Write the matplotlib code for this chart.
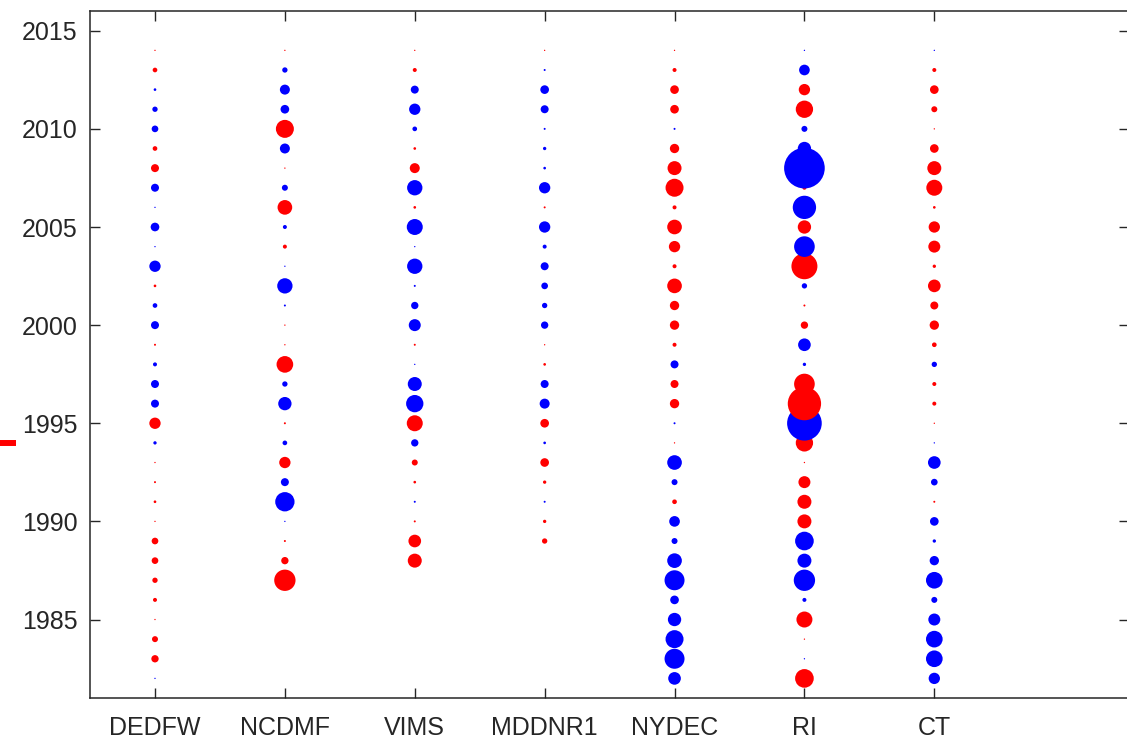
import numpy as np
import matplotlib.pyplot as plt
from matplotlib.lines import Line2D

plt.rcParams['font.family'] = ['Liberation Sans', 'DejaVu Sans']

years = np.arange(1982, 2015)
agencies = ["DEDFW", "NCDMF", "VIMS", "MDDNR1", "NYDEC", "RI", "CT"]
nan = np.nan

# signed anomaly per year, 1982..2014 (positive = red, negative = blue)
dedfw = [-0.2, 1.1, 0.9, 0.2, 0.6, 0.8, 1.0, 1.0, 0.2, 0.4, 0.3, 0.2, -0.5,
         1.7, -1.2, -1.2, -0.6, 0.3, -1.2, -0.7, 0.4, -1.7, -0.2, -1.3, -0.2,
         -1.2, 1.2, 0.7, -1.0, -0.8, -0.4, 0.7, 0.2]
ncdmf = [nan, nan, nan, nan, nan, 3.2, 1.1, 0.3, -0.2, -2.9, -1.2, 1.7, -0.7,
         0.3, -2.0, -0.8, 2.5, 0.2, 0.2, -0.3, -2.3, -0.2, 0.6, -0.6, 2.2,
         -0.9, 0.2, -1.5, 2.7, -1.3, -1.5, -0.8, 0.2]
vims = [nan, nan, nan, nan, nan, nan, 2.1, 1.9, 0.3, -0.3, 0.4, 0.9, -1.1,
        2.4, -2.6, -2.1, -0.2, 0.3, -1.8, -1.1, -0.3, -2.3, -0.2, -2.4, 0.4,
        -2.3, 1.5, 0.4, -0.7, -1.7, -1.2, 0.6, 0.2]
mddnr1 = [nan, nan, nan, nan, nan, nan, nan, 0.8, 0.5, -0.3, 0.5, 1.3, -0.4,
          1.3, -1.5, -1.2, 0.4, 0.2, -1.1, -0.8, -1.0, -1.2, -0.6, -1.7, 0.3,
          -1.7, -0.4, -0.5, -0.3, -1.2, -1.3, -0.3, 0.2]
nydec = [-1.9, -3.0, -2.7, -2.0, -1.3, -3.0, -2.2, -0.9, -1.6, 0.7, -0.9,
         -2.2, 0.2, -0.3, 1.4, 1.2, -1.2, 0.6, 1.4, 1.4, 2.2, 0.6, 1.7, 2.2,
         0.6, 2.7, 2.1, 1.4, -0.3, 1.3, 1.3, 0.6, 0.2]
ri = [2.8, -0.2, 0.2, 2.4, -0.6, -3.2, -2.1, -2.8, 2.1, 2.1, 1.8, 0.2, 2.6,
      -5.2, 5.0, 3.1, -0.5, -1.9, 1.1, 0.3, -0.8, 3.9, -3.1, 2.0, -3.5, 0.6,
      -6.1, -2.0, -0.9, 2.6, 1.7, -1.6, -0.2]
ct = [-1.7, -2.5, -2.5, -1.8, -0.9, -2.5, -1.4, -0.5, -1.3, 0.3, -1.0, -1.9,
      -0.2, 0.2, 0.6, 0.6, -0.8, 0.7, 1.4, 1.2, 1.9, 0.5, 1.8, 1.7, 0.4, 2.4,
      2.1, 1.3, 0.2, 0.9, 1.3, 0.6, -0.2]

series = [dedfw, ncdmf, vims, mddnr1, nydec, ri, ct]

fig = plt.figure(figsize=(11.27, 7.41), dpi=100)
ax = fig.add_axes([0.0799, 0.058, 0.922, 0.927])

for i, vals in enumerate(series):
    v = np.array(vals, dtype=float)
    ok = ~np.isnan(v)
    cols = np.where(v[ok] > 0, "#ff0000", "#0000ff")
    ax.scatter(np.full(ok.sum(), i + 1), years[ok], s=23.0 * v[ok] ** 2,
               c=cols, edgecolors="none", zorder=3)

ax.set_xlim(0.5, 8.5)
ax.set_ylim(1981, 2016)
ax.set_xticks(range(1, len(agencies) + 1))
ax.set_xticklabels(agencies)
ax.set_yticks(range(1985, 2016, 5))

dark = "#262626"
for sp in ax.spines.values():
    sp.set_color(dark)
    sp.set_linewidth(1.1)
ax.tick_params(direction="in", length=7.2, width=1.0, color=dark,
               labelcolor=dark, labelsize=18, top=True, right=True)
ax.tick_params(axis="x", pad=13)
ax.tick_params(axis="y", pad=9)

# small red mark at the left edge
fig.add_artist(Line2D([0, 16 / 1127], [0.4015, 0.4015], color="red",
                      linewidth=4.3, solid_capstyle="butt"))

fig.savefig("out.png", dpi=100)
